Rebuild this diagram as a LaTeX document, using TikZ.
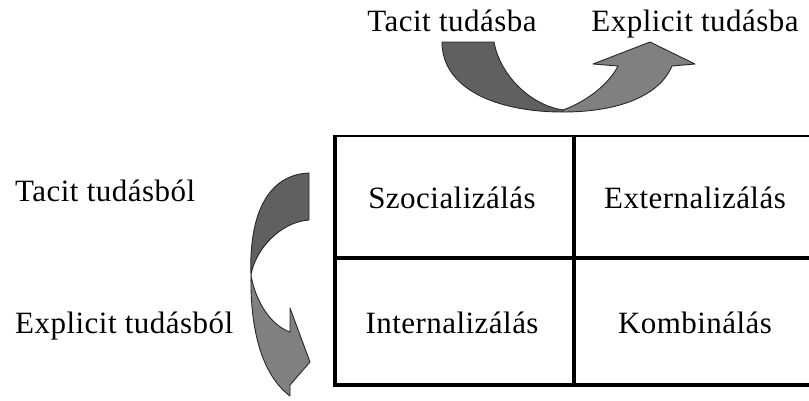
\documentclass[tikz,border=0pt]{standalone}
\usepackage{fontspec}
\setmainfont{Liberation Serif}[LetterSpace=1.5]
\definecolor{piecedark}{RGB}{96,96,96}
\definecolor{piecelight}{RGB}{128,128,128}
\definecolor{edgeline}{RGB}{40,40,40}
\begin{document}
\begin{tikzpicture}[x=1pt,y=-1pt,
  label/.style={font=\fontsize{31}{35}\selectfont, inner sep=0pt},
  celltext/.style={label, anchor=base},
  gridline/.style={line width=4pt, line cap=butt},
  thingrid/.style={line width=2.2pt, line cap=butt},
  darkpiece/.style={fill=piecedark, draw=edgeline, line width=0.9pt, line join=round},
  lightpiece/.style={fill=piecelight, draw=edgeline, line width=0.9pt, line join=round}]
\useasboundingbox (0,0) rectangle (809,400);

% matrix grid (open to the right)
\draw[thingrid] (333,136) -- (809,136);
\draw[gridline] (333,258) -- (809,258);
\draw[gridline] (333,385) -- (809,385);
\draw[gridline] (335,135) -- (335,387);
\draw[gridline] (574,136) -- (574,387);

% cells
\node[celltext] (szoc) at (452,208) {Szocializálás};
\node[celltext] (ext)  at (695,208) {Externalizálás};
\node[celltext] (int)  at (452,333) {Internalizálás};
\node[celltext] (komb) at (695,333) {Kombinálás};

% column headings
\node[celltext] (tacitto) at (452,31) {Tacit tudásba};
\node[celltext] (explto)  at (695,31) {Explicit tudásba};

% row headings
\node[label, anchor=base west] (tacitfrom) at (15,201) {Tacit tudásból};
\node[label, anchor=base west] (explfrom)  at (15,333) {Explicit tudásból};

% curved arrow at the top: left half
\path[darkpiece] (442,42) -- (494,42)
  .. controls (500,75) and (530,105) .. (563,110)
  -- (563,112)
  .. controls (495,112) and (442,88) .. (442,42) -- cycle;
% curved arrow at the top: right half with head
\path[lightpiece] (563,110)
  .. controls (590,100) and (610,82) .. (618,66)
  -- (593,64) -- (650,42) -- (695,64) -- (672,66)
  .. controls (660,95) and (620,112) .. (563,112) -- cycle;

% curved arrow on the left: upper half
\path[darkpiece] (309,173) -- (309,220)
  .. controls (280,222) and (255,250) .. (251,275)
  .. controls (249,225) and (262,175) .. (309,173) -- cycle;
% curved arrow on the left: lower half with head
\path[lightpiece] (251,275)
  .. controls (255,300) and (270,325) .. (290,332)
  -- (290,308) -- (310,362) -- (290,385) -- (290,396)
  .. controls (262,375) and (250,330) .. (251,275) -- cycle;
\end{tikzpicture}
\end{document}
